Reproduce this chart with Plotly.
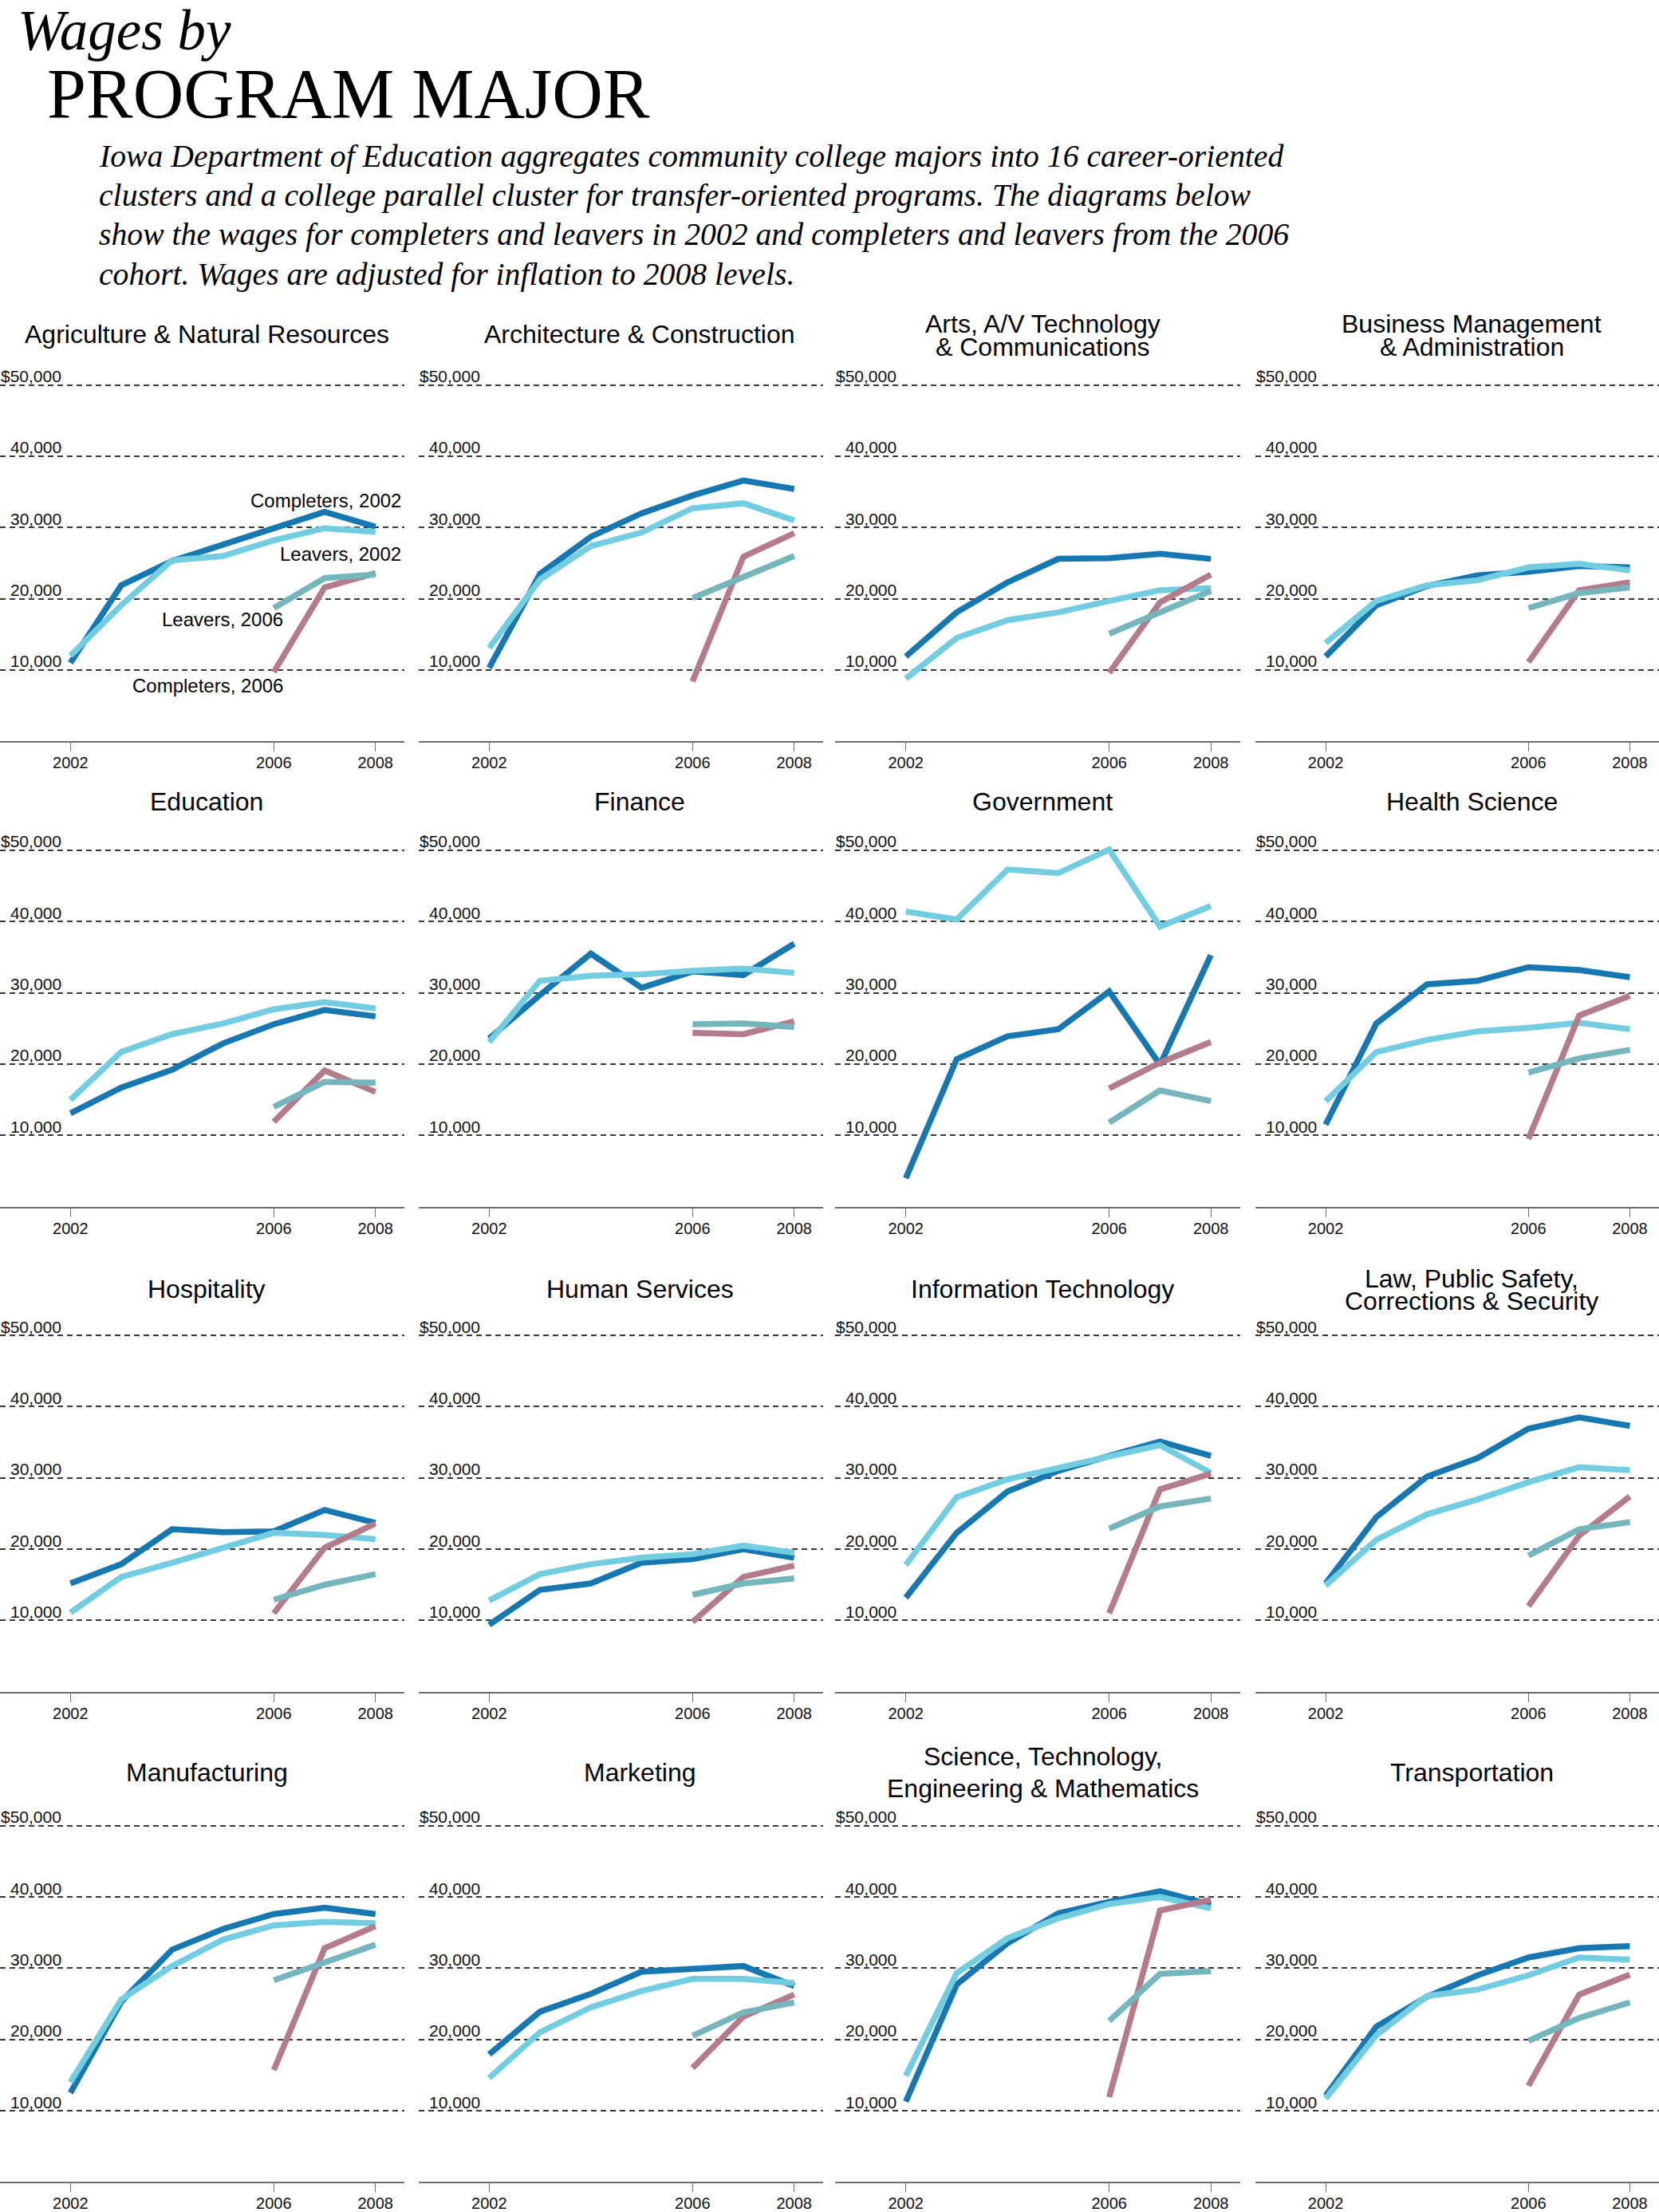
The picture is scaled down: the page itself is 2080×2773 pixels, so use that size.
import plotly.graph_objects as go

# ---------------- data ----------------
titles = [
    ["Agriculture & Natural Resources"],
    ["Architecture & Construction"],
    ["Arts, A/V Technology", "& Communications"],
    ["Business Management", "& Administration"],
    ["Education"],
    ["Finance"],
    ["Government"],
    ["Health Science"],
    ["Hospitality"],
    ["Human Services"],
    ["Information Technology"],
    ["Law, Public Safety,", "Corrections & Security"],
    ["Manufacturing"],
    ["Marketing"],
    ["Science, Technology,", "Engineering & Mathematics"],
    ["Transportation"],
]
years_2002_cohort = [2002, 2003, 2004, 2005, 2006, 2007, 2008]
years_2006_cohort = [2006, 2007, 2008]
x_tick_years = [2002, 2006, 2008]
x_tick_labels = ["2002", "2006", "2008"]
y_tick_values = [10000, 20000, 30000, 40000, 50000]
y_tick_labels = ["10,000", "20,000", "30,000", "40,000", "$50,000"]
series_names = ["Completers, 2002", "Leavers, 2002", "Completers, 2006", "Leavers, 2006"]

completers_2002 = [
    [11000, 21900, 25300, 27600, 29700, 32200, 30100],
    [10300, 23500, 28700, 32000, 34500, 36600, 35400],
    [11900, 18100, 22300, 25600, 25700, 26300, 25600],
    [11900, 19100, 21800, 23300, 23800, 24600, 24400],
    [13100, 16700, 19200, 22900, 25600, 27600, 26700],
    [23600, 29700, 35500, 30700, 33000, 32500, 36900],
    [4000, 20700, 23900, 24900, 30200, 19900, 35300],
    [11500, 25700, 31200, 31700, 33600, 33200, 32200],
    [15200, 17900, 22800, 22400, 22500, 25500, 23700],
    [9400, 14300, 15200, 18100, 18600, 20000, 18800],
    [13200, 22300, 28100, 31000, 33100, 35100, 33100],
    [15200, 24500, 30200, 32800, 36900, 38500, 37300],
    [12500, 25300, 32600, 35500, 37600, 38500, 37600],
    [17900, 23900, 26400, 29500, 29900, 30300, 27500],
    [11300, 27700, 33500, 37700, 39300, 40800, 38900],
    [12100, 21800, 26000, 29000, 31500, 32800, 33100],
]
leavers_2002 = [
    [12000, 19100, 25400, 26000, 28200, 29900, 29400],
    [13100, 22700, 27400, 29300, 32700, 33400, 31000],
    [8800, 14500, 17000, 18100, 19700, 21200, 21500],
    [13800, 19700, 21900, 22600, 24400, 24900, 24000],
    [15000, 21700, 24200, 25700, 27700, 28700, 27800],
    [23100, 31700, 32400, 32600, 33100, 33400, 32800],
    [41400, 40300, 47300, 46800, 50100, 39300, 42200],
    [14800, 21700, 23400, 24600, 25100, 25800, 24900],
    [11100, 16100, 18100, 20300, 22300, 22000, 21400],
    [12800, 16500, 17900, 18800, 19300, 20500, 19500],
    [17800, 27300, 29800, 31500, 33000, 34600, 30700],
    [14900, 21300, 24900, 27000, 29400, 31500, 31100],
    [14000, 25600, 30300, 34000, 36000, 36500, 36300],
    [14600, 21000, 24500, 26800, 28500, 28500, 27900],
    [14900, 29300, 34200, 37000, 39000, 40000, 38400],
    [11700, 20600, 26100, 27000, 29000, 31500, 31200],
]
completers_2006 = [
    [9700, 21600, 23600],
    [8400, 25900, 29200],
    [9600, 19500, 23400],
    [11100, 21200, 22300],
    [11900, 19100, 16100],
    [24400, 24200, 26000],
    [16600, 20200, 23100],
    [9500, 26800, 29600],
    [11000, 20200, 23600],
    [9800, 16100, 17700],
    [11000, 28400, 30600],
    [12000, 21900, 27400],
    [15700, 32800, 35900],
    [16000, 23200, 26300],
    [11900, 38100, 39600],
    [13500, 26300, 29100],
]
leavers_2006 = [
    [18700, 22900, 23400],
    [20100, 23100, 26000],
    [15100, 18200, 21100],
    [18700, 20800, 21600],
    [14000, 17500, 17400],
    [25600, 25700, 25200],
    [11800, 16300, 14800],
    [18800, 20800, 22000],
    [12900, 15000, 16500],
    [13600, 15200, 15900],
    [22900, 26000, 27100],
    [19100, 22800, 23800],
    [28300, 30800, 33300],
    [20500, 23800, 25200],
    [22600, 29200, 29600],
    [19800, 23000, 25200],
]

heading_1 = "Wages by"
heading_2 = "PROGRAM MAJOR"
intro_lines = [
    "Iowa Department of Education aggregates community college majors into 16 career-oriented",
    "clusters and a college parallel cluster for transfer-oriented programs. The diagrams below",
    "show the wages for completers and leavers in 2002 and completers and leavers from the 2006",
    "cohort. Wages are adjusted for inflation to 2008 levels.",
]

# ---------------- styling / layout ----------------
W, H = 2080, 2773
SANS = "Liberation Sans, Arial, Helvetica, sans-serif"
SERIF = "Liberation Serif, Times New Roman, serif"
colors = ["#1777b0", "#72cde1", "#b47b8a", "#74b6bc"]
LW = 7.5

def py(p):
    return 1 - p / H

col_left = [0, 525, 1047.4, 1574]
col_width = 507.4
col_title_x = [259, 802, 1307, 1845]
row_bottom = [931, 1515.4, 2124.6, 2740.3]
px_per_10k = 89.5
y_top_val = 52000
row_height = px_per_10k * y_top_val / 10000
title_single_y = [420, 1007, 1619, 2226]
title_double_y = [(407, 436), (1007, 1007), (1605.4, 1634.2), (2205.7, 2246)]

fig = go.Figure()
annotations = []
layout_axes = {}

for i in range(16):
    r, c = divmod(i, 4)
    n = i + 1
    xa = "x" if n == 1 else f"x{n}"
    ya = "y" if n == 1 else f"y{n}"
    x0 = col_left[c] / W
    x1 = min(1.0, (col_left[c] + col_width) / W)
    yb = py(row_bottom[r])
    yt = py(row_bottom[r] - row_height)

    series = [
        (years_2002_cohort, completers_2002[i], colors[0], series_names[0]),
        (years_2002_cohort, leavers_2002[i], colors[1], series_names[1]),
        (years_2006_cohort, completers_2006[i], colors[2], series_names[2]),
        (years_2006_cohort, leavers_2006[i], colors[3], series_names[3]),
    ]
    for xs, ys, col, name in series:
        fig.add_trace(go.Scatter(
            x=xs, y=ys, mode="lines", name=name, showlegend=False,
            line=dict(color=col, width=LW), xaxis=xa, yaxis=ya,
            hoverinfo="skip",
        ))

    kx = "xaxis" if n == 1 else f"xaxis{n}"
    ky = "yaxis" if n == 1 else f"yaxis{n}"
    layout_axes[kx] = dict(
        domain=[x0, x1], anchor=ya, range=[2000.615, 2008.575],
        showgrid=False, zeroline=False, showline=True, linecolor="#6e6e6e",
        linewidth=2, ticks="outside", ticklen=11, tickwidth=1.2, tickcolor="#6e6e6e",
        tickvals=x_tick_years, ticktext=x_tick_labels, ticklabelstandoff=-3,
        tickfont=dict(family=SANS, size=20, color="#111"), fixedrange=True,
    )
    layout_axes[ky] = dict(
        domain=[yb, yt], anchor=xa, range=[0, y_top_val],
        showgrid=True, gridcolor="#3a3a3a", gridwidth=1.5, griddash="7px,5px",
        zeroline=False, showline=False, showticklabels=False,
        tickvals=y_tick_values, ticks="", fixedrange=True,
    )

    # y tick labels placed inside the panel, above the gridlines
    for v, t in zip(y_tick_values, y_tick_labels):
        annotations.append(dict(
            text=t, xref=f"{xa} domain", yref=ya, x=79 / col_width, y=v,
            xanchor="right", yanchor="middle", yshift=11, showarrow=False,
            font=dict(family=SANS, size=21, color="#111"),
        ))

    # panel titles
    lines = titles[i]
    if len(lines) == 1:
        ys_t = [title_single_y[r]]
    else:
        ys_t = list(title_double_y[r])
    for line, yy in zip(lines, ys_t):
        annotations.append(dict(
            text=line, xref="paper", yref="paper", x=col_title_x[c] / W, y=py(yy),
            xanchor="center", yanchor="middle", showarrow=False,
            font=dict(family=SANS, size=32, color="#000"),
        ))

# series labels in the first panel
label_pos = [(2008.54, 33800), (2008.54, 26300), (2006.21, 7790), (2006.21, 17100)]
for name, (lx, ly) in zip(series_names, label_pos):
    annotations.append(dict(
        text=name, xref="x", yref="y", x=lx, y=ly, xanchor="right", yanchor="middle",
        showarrow=False, font=dict(family=SANS, size=24, color="#000"),
    ))

# header
annotations.append(dict(
    text=f"<i>{heading_1}</i>", xref="paper", yref="paper", x=20 / W, y=py(38),
    xanchor="left", yanchor="middle", showarrow=False,
    font=dict(family=SERIF, size=71, color="#000"),
))
annotations.append(dict(
    text=heading_2, xref="paper", yref="paper", x=57 / W, y=py(118),
    xanchor="left", yanchor="middle", showarrow=False,
    font=dict(family=SERIF, size=88, color="#000"),
))
for k, line in enumerate(intro_lines):
    annotations.append(dict(
        text=f"<i>{line}</i>", xref="paper", yref="paper", x=122 / W, y=py(196 + 49.5 * k),
        xanchor="left", yanchor="middle", showarrow=False,
        font=dict(family=SERIF, size=39.7, color="#000"),
    ))

fig.update_layout(
    width=W, height=H, margin=dict(l=0, r=0, t=0, b=0),
    paper_bgcolor="white", plot_bgcolor="white",
    showlegend=False, annotations=annotations, **layout_axes,
)

fig.write_html("out.html", config={"displayModeBar": False})
